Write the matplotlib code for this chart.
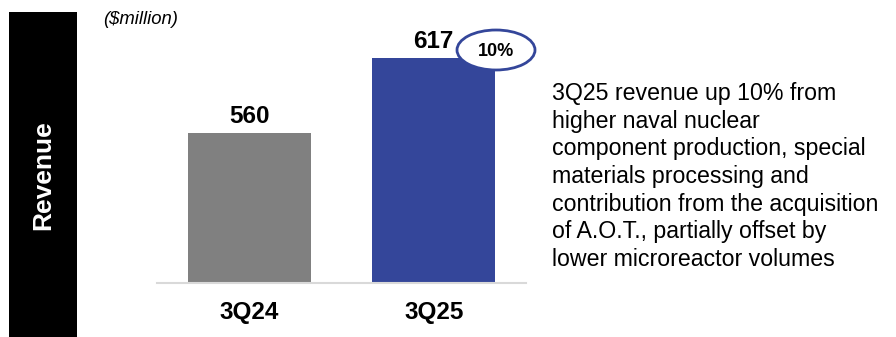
import matplotlib
matplotlib.use("Agg")
import matplotlib.pyplot as plt
from matplotlib.patches import Rectangle, Ellipse

plt.rcParams['font.family'] = ['Liberation Sans', 'DejaVu Sans']

# 数据
quarters = ['3Q24', '3Q25']
revenue = [560, 617]
bar_colors = ['#808080', '#34469A']
growth_label = '10%'
unit_label = '($million)'
side_title = 'Revenue'
comment = ('3Q25 revenue up 10% from\nhigher naval nuclear\ncomponent production, special\n'
           'materials processing and\ncontribution from the acquisition\n'
           'of A.O.T., partially offset by\nlower microreactor volumes')

W, H = 896, 337
fig = plt.figure(figsize=(W / 100, H / 100), dpi=100)


def fx(px):
    return px / W


def fy(py):
    return 1 - py / H


# 左侧黑色标签
fig.patches.append(Rectangle((fx(9), 0), fx(77) - fx(9), fy(12), transform=fig.transFigure,
                             facecolor='black', edgecolor='none'))
fig.text(fx(43), fy(175), side_title, rotation=90, color='white', fontsize=19,
         fontweight='bold', ha='center', va='center')
fig.text(fx(103), fy(20), unit_label, fontsize=13.3, style='italic', ha='left', va='center')

# 柱状图
ax = fig.add_axes([fx(157), fy(282.5), fx(526) - fx(157), fy(20) - fy(282.5)])
x = range(len(quarters))
ax.bar(x, revenue, width=0.668, color=bar_colors)
ax.set_xlim(-0.5, 1.5)
ax.set_ylim(447, 645.5)
for i, v in zip(x, revenue):
    ax.annotate(str(v), (i, v), xytext=(0, 12), textcoords='offset points',
                ha='center', va='center', fontsize=17.5, fontweight='bold')
ax.set_xticks(list(x))
ax.set_xticklabels(quarters, fontsize=17.5, fontweight='bold')
ax.tick_params(axis='x', length=0, pad=13)
ax.set_yticks([])
for s in ['top', 'right', 'left']:
    ax.spines[s].set_visible(False)
ax.spines['bottom'].set_color('#d9d9d9')
ax.spines['bottom'].set_linewidth(1.5)

# 增长率椭圆
fig.patches.append(Ellipse((fx(496), fy(50)), fx(78), 40 / H, transform=fig.transFigure,
                           facecolor='white', edgecolor='#34469A', linewidth=2))
fig.text(fx(496), fy(51), growth_label, fontsize=13, fontweight='bold', ha='center', va='center')

# 右侧说明
fig.text(fx(552), fy(82), comment, fontsize=16.7, ha='left', va='top', linespacing=1.26)

fig.savefig('out.png', dpi=100)
